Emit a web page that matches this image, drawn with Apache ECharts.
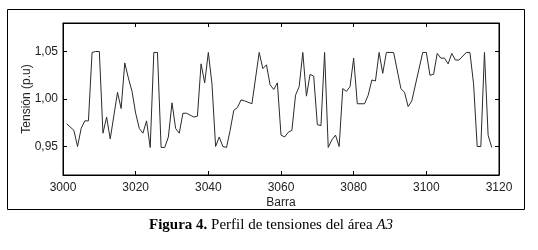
<!DOCTYPE html>
<html><head><meta charset="utf-8">
<script src="https://cdn.jsdelivr.net/npm/echarts@6/dist/echarts.min.js"></script>
<style>html,body{margin:0;padding:0;background:#fff}#c{width:538px;height:250px}</style>
</head><body><div id="c"></div>
<script>
const buses = [3001,3003,3004,3005,3006,3007,3008,3009,3010,3011,3012,3013,3015,3016,3017,3018,3019,3020,3021,3022,3023,3024,3025,3026,3027,3028,3029,3030,3031,3032,3033,3034,3035,3036,3037,3038,3039,3040,3041,3042,3043,3044,3045,3046,3047,3048,3049,3050,3052,3054,3055,3056,3057,3058,3059,3060,3061,3062,3063,3064,3065,3066,3067,3068,3069,3070,3071,3072,3073,3074,3075,3076,3077,3078,3079,3080,3081,3083,3084,3085,3086,3087,3088,3089,3091,3093,3094,3095,3096,3099,3100,3101,3102,3103,3104,3105,3106,3107,3108,3109,3111,3112,3113,3114,3115,3116,3117,3118];
const tension = [0.974,0.967,0.950,0.969,0.977,0.977,1.049,1.050,1.050,0.964,0.981,0.958,1.007,0.990,1.038,1.022,1.008,0.985,0.969,0.964,0.977,0.949,1.049,1.049,0.949,0.949,0.960,0.996,0.969,0.964,0.985,0.985,0.983,0.981,0.982,1.037,1.017,1.049,1.016,0.950,0.960,0.950,0.949,0.967,0.988,0.991,0.999,0.998,0.995,1.049,1.032,1.036,1.015,1.010,1.017,0.962,0.960,0.965,0.967,1.004,1.013,1.049,1.003,1.026,1.024,0.973,0.972,1.049,0.949,0.957,0.962,0.950,1.011,1.008,1.013,1.043,0.995,0.995,1.004,1.020,1.019,1.049,1.027,1.049,1.049,1.011,1.007,0.992,0.998,1.049,1.049,1.025,1.026,1.048,1.043,1.043,1.037,1.048,1.041,1.041,1.049,1.049,1.016,0.950,0.950,1.049,0.962,0.949];
const xTicks = [3000,3020,3040,3060,3080,3100,3120];
const yTicks = [0.95,1.00,1.05];
const xName = 'Barra';
const yName = 'Tensión (p.u)';

const chart = echarts.init(document.getElementById('c'), null, {renderer:'canvas'});
const fmtY = v => v.toFixed(2).replace('.', ',');
const lblFont = {fontFamily:'Liberation Sans, Arial, sans-serif', fontSize:12, color:'#222'};
chart.setOption({
  animation:false,
  grid:{left:63, right:39, top:23, bottom:75, show:true, borderColor:'#000', borderWidth:1},
  xAxis:[{
    type:'value', min:xTicks[0], max:xTicks[xTicks.length-1], interval:20,
    name:xName, nameLocation:'middle', nameGap:22, nameMoveOverlap:false,
    nameTextStyle:lblFont,
    axisLine:{show:true, lineStyle:{color:'#000', width:1}},
    axisTick:{show:true, inside:true, length:4, lineStyle:{color:'#000'}},
    axisLabel:{...lblFont, margin:7, formatter:v => String(v)},
    splitLine:{show:false}
  },{
    type:'value', position:'top', min:xTicks[0], max:xTicks[xTicks.length-1], interval:20,
    axisLine:{show:true, lineStyle:{color:'#000'}},
    axisTick:{show:true, inside:true, length:4, lineStyle:{color:'#000'}},
    axisLabel:{show:false}, splitLine:{show:false}
  }],
  yAxis:[{
    type:'value', min:0.92, max:1.08,
    name:yName, nameLocation:'middle', nameGap:30, nameRotate:90, nameMoveOverlap:false,
    nameTextStyle:lblFont,
    axisLine:{show:true, lineStyle:{color:'#000'}},
    axisTick:{show:true, inside:true, length:4, customValues:yTicks, lineStyle:{color:'#000'}},
    axisLabel:{...lblFont, customValues:yTicks, formatter:fmtY, margin:5},
    splitLine:{show:false}
  },{
    type:'value', position:'right', min:0.92, max:1.08,
    axisLine:{show:true, lineStyle:{color:'#000'}},
    axisTick:{show:true, inside:true, length:4, customValues:yTicks, lineStyle:{color:'#000'}},
    axisLabel:{show:false, customValues:yTicks}, splitLine:{show:false}
  }],
  graphic:[
    {type:'rect', shape:{x:7.5, y:9.5, width:517, height:200}, style:{fill:'none', stroke:'#000', lineWidth:1}, silent:true},
    {type:'text', left:149, top:218, style:{
      rich:{b:{fontFamily:'Liberation Serif, DejaVu Serif, serif', fontWeight:'bold', fontSize:15, fill:'#000'},
            n:{fontFamily:'Liberation Serif, DejaVu Serif, serif', fontSize:15, fill:'#000'},
            i:{fontFamily:'Liberation Serif, DejaVu Serif, serif', fontStyle:'italic', fontSize:15, fill:'#000'}},
      text:'{b|Figura 4.}{n| Perfil de tensiones del área }{i|A3}'
    }}
  ],
  series:[{
    type:'line', data:buses.map((b,i)=>[b, tension[i]]),
    showSymbol:false, symbol:'none',
    lineStyle:{color:'#2a2a2a', width:1}
  }]
});
</script></body></html>
